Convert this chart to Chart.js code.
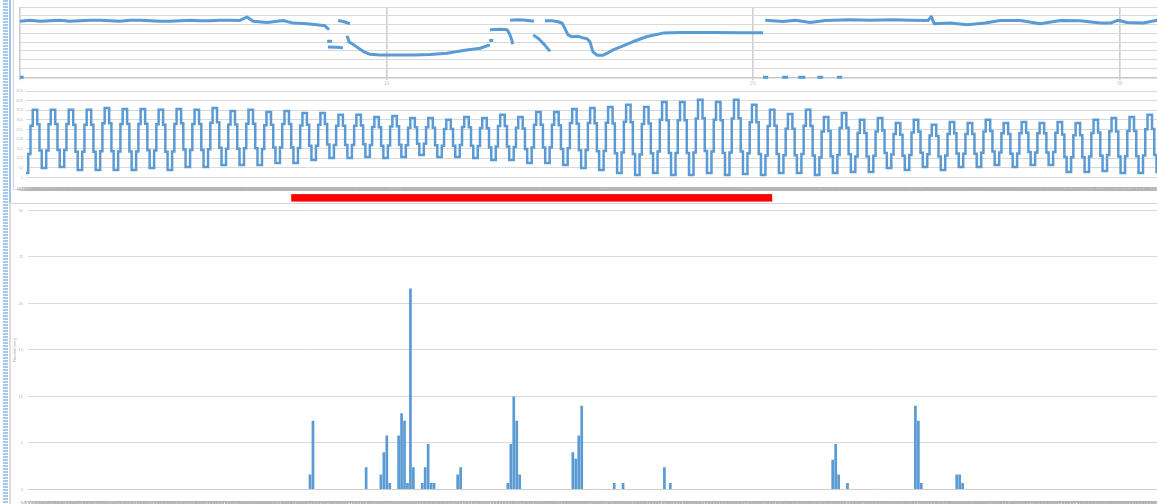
<!DOCTYPE html>
<html>
<head>
<meta charset="utf-8">
<title>Water level, tide and rainfall</title>
<script src="https://cdn.jsdelivr.net/npm/chart.js@4.4.1/dist/chart.umd.min.js"></script>
<style>
  html, body { margin: 0; padding: 0; background: #fff; }
  body { width: 1157px; height: 504px; overflow: hidden; position: relative; }
  canvas { position: absolute; left: 0; }
  #c-level { top: 0; }
  #c-tide { top: 84px; }
  #c-rain { top: 203px; }
  .row-head { position: absolute; left: 3px; top: 0; width: 5px; height: 504px;
    background: repeating-linear-gradient(to bottom, #a8c8ea 0, #a8c8ea 2px, #ffffff 2px, #ffffff 3px); }
  .sel-top { position: absolute; left: 9px; top: 0; width: 2px; height: 203px; background: #9cc2e8; }
  .sel-bottom { position: absolute; left: 9px; top: 203px; width: 2px; height: 301px; background: #dcdcdc; }
  .frame-left { position: absolute; left: 13px; top: 0; width: 1px; height: 189px; background: #d6d6d6; }
  .frame-bottom { position: absolute; left: 13px; top: 189px; width: 1144px; height: 1px; background: #d6d6d6; }
  .frame-rain { position: absolute; left: 11px; top: 203px; width: 1146px; height: 1px; background: #d6d6d6; }
</style>
</head>
<body>
<div class="row-head"></div>
<div class="sel-top"></div>
<div class="sel-bottom"></div>
<div class="frame-left"></div>
<div class="frame-bottom"></div>
<div class="frame-rain"></div>
<canvas id="c-level" width="1193" height="88"></canvas>
<canvas id="c-tide" width="1161" height="120"></canvas>
<canvas id="c-rain" width="1162" height="310"></canvas>
<script>
// ---- Water level (top panel): day offsets and readings, null = gap in record ----
const levelDays = [
  0, 0.1, null,
  0, 0.27, 0.55, 0.82, 1.09, 1.36, 1.64, 1.91, 2.18, 2.46, 2.73, 3.0, 3.27, 3.55, 3.82, 4.09, 4.37, 4.64, 4.91, 5.18, 5.46, 5.73, 6.0, 6.19, 6.36, 6.74, 7.18, 7.45, 7.83, 8.10, 8.32, 8.43, null,
  8.68, 8.84, 9.0, null,
  8.38, 8.51, null,
  8.40, 8.62, 8.81, null,
  8.92, 8.98, 9.06, 9.22, 9.39, 9.55, 9.82, 10.37, 10.72, 11.19, 11.65, 12.09, 12.55, 12.82, null,
  12.80, 12.91, null,
  12.82, 13.10, 13.29, 13.36, 13.42, 13.44, null,
  13.37, 13.59, 13.81, 14.02, null,
  14.0, 14.15, 14.3, 14.46, null,
  14.32, 14.52, 14.68, 14.79, 14.87, 14.95, 15.06, 15.23, 15.36, 15.47, 15.55, 15.63, 15.75, 15.9, 16.02, 16.18, 16.45, 16.73, 17.11, 17.54, 18.01, 18.91, 19.6, 20.27, null,
  20.27, 20.41, null, 20.79, 20.95, null, 21.23, 21.42, null, 21.75, 21.91, null, 22.29, 22.43, null,
  20.33, 20.82, 21.15, 21.56, 21.96, 22.65, 23.19, 23.82, 24.28, 24.77, 24.86, 24.94, 25.38, 25.84, 26.33, 26.74, 27.29, 27.83, 28.38, 28.92, 29.47, 29.74, 29.96, 30.2, 30.64, 31.02, 31.51, 31.92
];
const levelValues = [
  0, 0, null,
  6.38, 6.49, 6.38, 6.43, 6.49, 6.38, 6.43, 6.49, 6.49, 6.43, 6.38, 6.49, 6.49, 6.43, 6.38, 6.38, 6.43, 6.49, 6.43, 6.43, 6.49, 6.49, 6.47, 6.86, 6.38, 6.24, 6.47, 6.17, 6.09, 5.98, 5.86, 5.41, null,
  6.47, 6.32, 6.09, null,
  4.09, 4.09, null,
  3.46, 3.41, 3.35, null,
  4.72, 4.03, 3.81, 3.35, 2.89, 2.61, 2.55, 2.55, 2.55, 2.6, 2.74, 3.04, 3.31, 3.69, null,
  4.2, 4.2, null,
  5.41, 5.46, 5.41, 4.9, 4.2, 3.75, null,
  6.49, 6.55, 6.49, 6.38, null,
  4.83, 4.38, 3.75, 2.95, null,
  6.43, 6.43, 6.32, 6.15, 5.52, 4.83, 4.61, 4.66, 4.49, 4.38, 4.03, 2.9, 2.5, 2.5, 2.74, 3.12, 3.58, 4.07, 4.64, 5.03, 5.10, 5.10, 5.08, 5.06, null,
  0, 0, null, 0, 0, null, 0, 0, null, 0, 0, null, 0, 0, null,
  6.49, 6.35, 6.49, 6.24, 6.47, 6.55, 6.49, 6.55, 6.49, 6.47, 6.9, 6.1, 6.17, 5.98, 6.17, 6.47, 6.47, 6.09, 6.47, 6.43, 6.17, 6.17, 6.49, 6.24, 6.17, 6.49, 6.4, 6.43
];
const levelTicks = [10, 20, 30];

// ---- Tide (middle panel), cm, one row per tidal cycle ----
const tideCm = [
  24,122,270,352,352,277,141,
  50,50,141,277,352,352,278,144,
  55,55,144,278,352,352,274,134,
  40,40,134,274,352,352,274,134,
  40,40,137,282,362,362,282,137,
  40,40,135,278,357,357,278,135,
  40,40,135,278,357,357,280,142,
  50,50,141,277,352,352,274,134,
  40,40,135,278,357,357,282,146,
  55,55,144,278,352,352,278,144,
  55,55,147,285,362,362,288,155,
  66,66,150,276,346,346,276,150,
  66,66,152,280,352,352,280,152,
  66,66,148,272,341,341,275,156,
  76,76,157,279,346,346,279,157,
  76,76,154,271,336,336,275,165,
  92,92,165,275,336,336,278,172,
  102,102,169,270,326,326,270,169,
  102,102,169,270,326,326,271,173,
  107,107,169,263,315,315,262,166,
  102,102,167,266,320,320,267,171,
  107,107,168,259,310,310,262,176,
  118,118,176,262,310,310,259,168,
  107,107,165,252,300,300,252,165,
  107,107,169,263,315,315,262,166,
  102,102,164,258,310,310,256,157,
  92,92,162,268,326,326,268,162,
  92,92,159,259,315,315,255,148,
  76,76,156,275,341,341,275,156,
  76,76,156,275,341,341,272,149,
  66,66,153,284,357,357,280,142,
  50,50,144,284,362,362,282,137,
  40,40,138,285,367,367,281,127,
  24,24,130,290,378,378,287,123,
  14,14,120,279,367,367,281,127,
  24,24,135,301,393,393,298,128,
  14,14,128,298,393,393,298,128,
  14,14,131,307,404,404,309,138,
  24,24,135,301,393,393,298,128,
  14,14,131,307,404,404,308,135,
  19,19,127,288,378,378,287,123,
  14,14,115,268,352,352,270,122,
  24,24,116,254,331,331,254,116,
  24,24,122,270,352,352,268,115,
  14,14,104,240,315,315,242,111,
  24,24,118,258,336,336,259,121,
  29,29,110,232,300,300,232,110,
  29,29,113,240,310,310,245,128,
  50,50,120,226,284,284,223,113,
  40,40,118,235,300,300,239,129,
  55,55,121,219,274,274,216,110,
  40,40,115,227,289,289,231,125,
  55,55,124,227,284,284,227,124,
  55,55,129,239,300,300,242,136,
  66,66,131,230,284,284,227,124,
  55,55,125,231,289,289,233,133,
  66,66,131,230,284,284,230,131,
  66,66,133,233,289,289,224,107,
  29,29,106,220,284,284,220,106,
  29,29,110,232,300,300,234,114,
  34,34,117,241,310,310,239,110,
  24,24,111,242,315,315,242,111,
  24,24,115,251,326,326,252,118,
  29,29,120
];
const tideStart = new Date(2019, 5, 1, 0, 0);
const tideStepMinutes = 93;
// period marked in red under the tide panel (sample indices)
const markedFrom = 118;
const markedTo = 332;

// ---- Rainfall (bottom panel), hourly ----
const rainStart = new Date(2019, 5, 1, 0, 0);
const rainHourCount = 384;
const rainHour = [95,96,114,119,120,121,122,125,126,127,128,129,130,133,134,135,136,137,145,146,162,163,164,165,166,184,185,186,187,198,201,215,217,272,273,274,277,300,301,302,314,315,316];
const rainMm   = [1.6,7.4,2.4,1.6,4.0,5.8,0.7,5.8,8.2,7.4,0.7,21.6,2.4,0.7,2.4,4.9,0.7,0.7,1.6,2.4,0.7,4.9,10.0,7.4,1.6,4.0,3.3,5.8,9.0,0.7,0.7,2.4,0.7,3.2,4.9,1.6,0.7,9.0,7.4,0.7,1.6,1.6,0.7];

// ---------------------------------------------------------------
const BLUE = '#5b9bd5';
const GRID = '#d9d9d9';
Chart.defaults.font.family = '"Liberation Sans", Arial, sans-serif';
Chart.defaults.color = '#a8a8a8';

const pad2 = n => String(n).padStart(2, '0');
const fixWidth = w => scale => { scale.width = w; };
// fixed axis height; tick labels are allowed to overhang the plot ends
const fixHeight = h => scale => { scale.height = h; scale.paddingLeft = 0; scale.paddingRight = 0; };
const common = {
  responsive: false,
  animation: false,
  devicePixelRatio: 1,
  events: [],
  plugins: { legend: { display: false }, tooltip: { enabled: false } }
};

const levelPoints = levelDays.map((d, i) => ({ x: d, y: levelValues[i] }));

const tideLabels = tideCm.map((_, i) => {
  const t = new Date(tideStart.getTime() + i * tideStepMinutes * 60000);
  return (t.getMonth() + 1) + '/' + t.getDate() + ' ' + t.getHours() + ':' + pad2(t.getMinutes());
});

const rainLabels = [];
const rainSeries = [];
for (let i = 0; i < rainHourCount; i++) {
  const t = new Date(rainStart.getTime() + i * 3600000);
  rainLabels.push([(t.getMonth() + 1) + '/' + t.getDate() + ' ' + t.getHours() + ':00',
    i % 9 === 4 ? (t.getMonth() + 1) + '/' + t.getDate() : '']);
  rainSeries.push(0);
}
rainHour.forEach((h, k) => { rainSeries[h] = rainMm[k]; });

// ---- top: water level ----
new Chart(document.getElementById('c-level'), {
  type: 'line',
  data: { datasets: [{
    data: levelPoints, borderColor: BLUE, borderWidth: 3, pointRadius: 0,
    spanGaps: false, tension: 0, clip: false, borderJoinStyle: 'round'
  }] },
  options: {
    ...common,
    layout: { padding: { top: 7, right: 0, bottom: 0, left: 0 } },
    scales: {
      x: {
        type: 'linear', min: 0, max: 32, afterFit: fixHeight(10.7),
        afterBuildTicks: scale => { scale.ticks = [0].concat(levelTicks).map(v => ({ value: v })); },
        ticks: { font: { size: 5 }, color: '#c4c4c4', padding: 0, maxRotation: 0,
          callback: v => (v === 0 ? '' : String(v)) },
        grid: { color: '#d0d0d0', lineWidth: 1.6, tickLength: 3 },
        border: { color: '#c8c8c8', width: 1.5 }
      },
      y: {
        min: 0, max: 8, afterFit: fixWidth(20),
        ticks: { display: false, stepSize: 1 },
        grid: { color: GRID, lineWidth: 1, drawTicks: false },
        border: { color: '#dcdcdc', width: 1 }
      }
    }
  }
});

// ---- middle: tide ----
const markerPlugin = {
  id: 'periodMarker',
  afterDraw(chart) {
    const xs = chart.scales.x;
    const x0 = xs.getPixelForValue(markedFrom);
    const x1 = xs.getPixelForValue(markedTo);
    const ctx = chart.ctx;
    ctx.save();
    ctx.fillStyle = '#ff0000';
    ctx.fillRect(x0, chart.chartArea.bottom + 16.5, x1 - x0, 7.5);
    ctx.restore();
  }
};
new Chart(document.getElementById('c-tide'), {
  type: 'line',
  data: { labels: tideLabels, datasets: [{
    data: tideCm, borderColor: BLUE, borderWidth: 2.5, pointRadius: 0,
    stepped: true, clip: false
  }] },
  options: {
    ...common,
    layout: { padding: { top: 7, right: 0, bottom: 0, left: 0 } },
    scales: {
      x: {
        type: 'category', offset: false, afterFit: fixHeight(26.4),
        ticks: { autoSkip: false, maxRotation: 0, minRotation: 0, padding: 1,
          font: { size: 5 }, color: '#b4b4b4' },
        grid: { display: false },
        border: { color: GRID, width: 1 }
      },
      y: {
        min: 0, max: 450, afterFit: fixWidth(26),
        ticks: { stepSize: 50, font: { size: 4 }, color: '#bdbdbd', padding: 3 },
        grid: { color: GRID, lineWidth: 1, drawTicks: false },
        border: { display: false }
      }
    }
  },
  plugins: [markerPlugin]
});

// ---- bottom: rainfall ----
new Chart(document.getElementById('c-rain'), {
  type: 'bar',
  data: { labels: rainLabels, datasets: [{
    data: rainSeries, backgroundColor: BLUE, borderWidth: 0,
    barPercentage: 1, categoryPercentage: 0.92
  }] },
  options: {
    ...common,
    layout: { padding: { top: 7, right: 0, bottom: 0, left: 0 } },
    scales: {
      x: {
        afterFit: fixHeight(23.5),
        ticks: { autoSkip: false, maxRotation: 0, minRotation: 0, padding: 1,
          font: { size: 5, lineHeight: '10px' }, color: '#b0b0b0' },
        grid: { display: false },
        border: { color: '#cfcfcf', width: 1 }
      },
      y: {
        min: 0, max: 30, afterFit: fixWidth(28),
        ticks: { stepSize: 5, font: { size: 4 }, color: '#b4b4b4', padding: 5 },
        grid: { color: GRID, lineWidth: 1, drawTicks: false },
        border: { display: false },
        title: { display: true, text: 'Rainfall (mm)', font: { size: 4 }, color: '#a8a8a8',
          padding: { top: 12, bottom: 0 } }
      }
    }
  }
});
</script>
</body>
</html>
